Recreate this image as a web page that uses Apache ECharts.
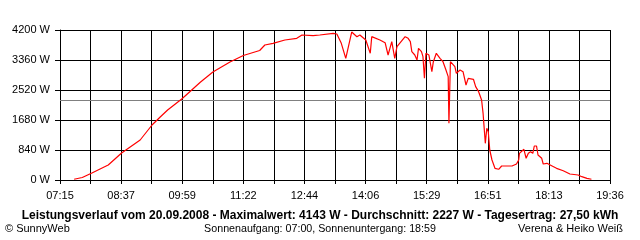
<!DOCTYPE html>
<html><head><meta charset="utf-8">
<script src="https://cdn.jsdelivr.net/npm/echarts@6/dist/echarts.min.js"></script>
<style>html,body{margin:0;padding:0;background:#fff}#c{width:640px;height:240px}</style>
</head><body><div id="c"></div>
<script>
// ---- data ----
const tickLabels = ["07:15","08:37","09:59","11:22","12:44","14:06","15:29","16:51","18:13","19:36"];
const yMax = 4200;
const yStep = 840;
const averageW = 2227;
const times = ["07:34","07:45","07:58","08:09","08:20","08:38","09:03","09:19","09:30","09:40",
  "09:59","10:11","10:24","10:41","11:04","11:22","11:44","11:51","12:02","12:18",
  "12:34","12:41","12:56","13:05","13:23","13:28","13:34","13:40","13:48","13:55",
  "13:59","14:07","14:13","14:15","14:26","14:33","14:37","14:42","14:46","14:49",
  "15:00","15:04","15:07","15:09","15:13","15:16","15:18","15:20","15:22","15:24",
  "15:26","15:28","15:32","15:36","15:38","15:42","15:47","15:51","15:55","15:58",
  "15:59","16:01","16:07","16:09","16:14","16:18","16:22","16:25","16:32","16:35",
  "16:39","16:43","16:45","16:46","16:48","16:50","16:52","16:54","16:57","17:01",
  "17:06","17:10","17:24","17:30","17:33","17:34","17:40","17:43","17:46","17:49",
  "17:52","17:54","17:57","17:59","18:04","18:06","18:11","18:18","18:24","18:33",
  "18:42","18:53","18:58","19:05","19:11"];
const watts = [20,70,196,308,420,756,1120,1540,1764,1960,
  2268,2492,2736,3024,3304,3486,3626,3780,3827,3920,
  3967,4060,4041,4060,4107,4088,3827,3407,4143,4013,
  4060,3920,3547,4013,3920,3845,3500,3873,3407,3733,
  4013,3967,3873,3593,3500,3360,3687,3733,3593,3453,
  2847,3547,3500,3033,3313,3547,3407,3313,3080,2893,
  1587,3313,3173,2987,3080,3033,2660,2847,2820,2613,
  2473,2240,1867,1587,1027,1447,1353,840,560,327,
  300,392,392,448,560,747,860,607,747,793,
  747,952,952,700,607,448,467,392,327,260,
  168,140,93,47,20];
const titleText = "Leistungsverlauf vom 20.09.2008 - Maximalwert: 4143 W - Durchschnitt: 2227 W - Tagesertrag: 27,50 kWh";
const footLeft = "© SunnyWeb";
const footCenter = "Sonnenaufgang: 07:00, Sonnenuntergang: 18:59";
const footRight = "Verena & Heiko Weiß";

// ---- build ----
const toMin = s => { const p = s.split(":"); return (+p[0]) * 60 + (+p[1]); };
const start = toMin(tickLabels[0]);
const span = toMin(tickLabels[tickLabels.length - 1]) - start;
const xStep = span / ((tickLabels.length - 1) * 2);
const seriesData = times.map((t, i) => [toMin(t) - start, watts[i]]);
const FONT = "Liberation Sans";

const chart = echarts.init(document.getElementById('c'), null, {renderer: 'canvas'});
chart.setOption({
  animation: false,
  backgroundColor: '#fff',
  grid: {left: 60, right: 30, top: 30, bottom: 60, containLabel: false},
  xAxis: {
    type: 'value', min: 0, max: span, interval: xStep,
    axisLine: {show: true, lineStyle: {color: '#000', width: 1}},
    axisTick: {show: true, length: 4, lineStyle: {color: '#000'}},
    splitLine: {show: true, lineStyle: {color: '#000', width: 1}},
    axisLabel: {
      margin: 10, color: '#000', fontFamily: FONT, fontSize: 11,
      formatter: v => { const k = Math.round(v / xStep); return k % 2 === 0 ? tickLabels[k / 2] : ''; }
    }
  },
  yAxis: {
    type: 'value', min: 0, max: yMax, interval: yStep,
    axisLine: {show: true, lineStyle: {color: '#000', width: 1}},
    axisTick: {show: true, length: 5, lineStyle: {color: '#000'}},
    splitLine: {show: true, lineStyle: {color: '#000', width: 1}},
    axisLabel: {margin: 10, color: '#000', fontFamily: FONT, fontSize: 11, formatter: v => v + ' W'}
  },
  series: [{
    type: 'line', data: seriesData, showSymbol: false, symbol: 'none',
    lineStyle: {color: '#ff0000', width: 1.2}, z: 3,
    markLine: {
      silent: true, symbol: ['none', 'none'], label: {show: false},
      lineStyle: {color: '#808080', type: 'solid', width: 1},
      data: [{yAxis: averageW}], z: 2
    }
  }],
  graphic: [
    {type: 'text', x: 320, y: 216, style: {text: titleText, fill: '#000', font: 'bold 12px "' + FONT + '"', textAlign: 'center', textVerticalAlign: 'middle'}},
    {type: 'text', x: 5, y: 229, style: {text: footLeft, fill: '#000', font: '11px "' + FONT + '"', textAlign: 'left', textVerticalAlign: 'middle'}},
    {type: 'text', x: 320, y: 229, style: {text: footCenter, fill: '#000', font: '10.7px "' + FONT + '"', textAlign: 'center', textVerticalAlign: 'middle'}},
    {type: 'text', x: 623, y: 229, style: {text: footRight, fill: '#000', font: '11px "' + FONT + '"', textAlign: 'right', textVerticalAlign: 'middle'}}
  ]
});
</script></body></html>
